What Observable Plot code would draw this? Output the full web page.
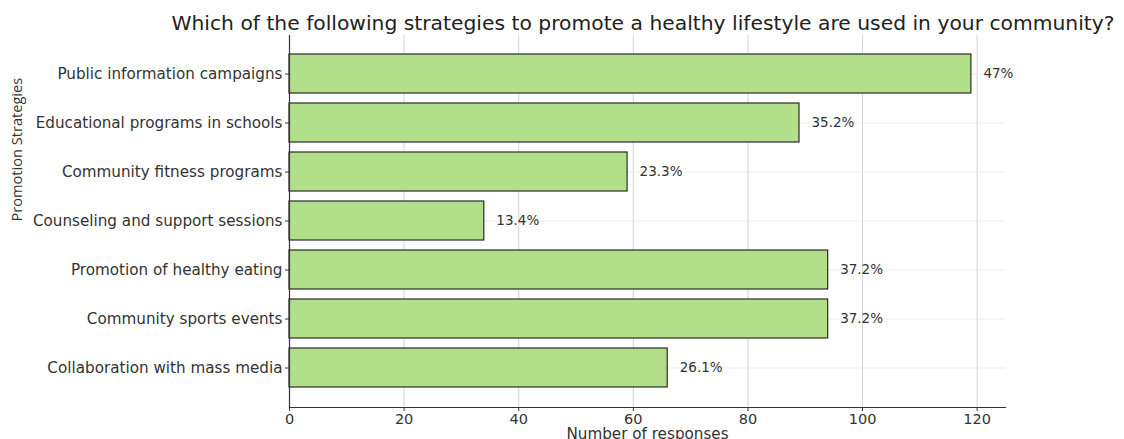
<!DOCTYPE html>
<html>
<head>
<meta charset="utf-8">
<script src="https://cdn.jsdelivr.net/npm/d3@7"></script>
<script src="https://cdn.jsdelivr.net/npm/@observablehq/plot@0.6"></script>
<style>
  html, body { margin: 0; padding: 0; background: #fff; }
  #chart { width: 1124px; height: 439px; overflow: hidden; }
</style>
</head>
<body>
<div id="chart"></div>
<script>
const title = "Which of the following strategies to promote a healthy lifestyle are used in your community?";
const xLabel = "Number of responses";
const yLabel = "Promotion Strategies";
const categories = [
  "Public information campaigns",
  "Educational programs in schools",
  "Community fitness programs",
  "Counseling and support sessions",
  "Promotion of healthy eating",
  "Community sports events",
  "Collaboration with mass media"
];
const responses = [119, 89, 59, 34, 94, 94, 66];
const percentLabels = ["47%", "35.2%", "23.3%", "13.4%", "37.2%", "37.2%", "26.1%"];
const xTicks = [0, 20, 40, 60, 80, 100, 120];

const data = categories.map((c, i) => ({cat: c, value: responses[i], pct: percentLabels[i]}));

const chart = Plot.plot({
  width: 1124,
  height: 439,
  marginLeft: 289,
  marginRight: 119,
  marginTop: 35,
  marginBottom: 32,
  style: {fontFamily: "DejaVu Sans", fontSize: "15px", color: "#333", background: "#fff", overflow: "visible"},
  x: {domain: [0, 124.95]},
  y: {domain: categories, paddingInner: 0.2, paddingOuter: 0.34},
  marks: [
    Plot.gridX(xTicks, {stroke: "#c8c8c8", strokeOpacity: 1, strokeWidth: 0.8}),
    Plot.gridY(categories, {stroke: "#e8e8e8", strokeOpacity: 1, strokeWidth: 0.8}),
    Plot.barX(data, {x: "value", y: "cat", fill: "#b2df8a", stroke: "#2a2a2a", strokeWidth: 1.2}),
    Plot.text(data, {x: "value", y: "cat", text: "pct", dx: 12, textAnchor: "start", fontSize: 13.5, fill: "#333"}),
    Plot.axisX({ticks: xTicks, tickSize: 4, tickPadding: 2, label: null, fontSize: 14.5}),
    Plot.axisY({tickSize: 4, tickPadding: 3, label: null, fontSize: 15.2}),
    Plot.frame({anchor: "bottom", stroke: "#333", strokeWidth: 1.2}),
    Plot.frame({anchor: "left", stroke: "#333", strokeWidth: 1.2}),
    Plot.text([title], {frameAnchor: "top", dy: -13, dx: -4.5, fontSize: 20.3, fill: "#222"}),
    Plot.text([xLabel], {frameAnchor: "bottom", lineAnchor: "top", dy: 21, fontSize: 15.2, fill: "#333"}),
    Plot.text([yLabel], {frameAnchor: "left", dx: -272, rotate: -90, fontSize: 14.6, fill: "#333", fontFamily: "Open Sans"})
  ]
});
// move title up to match the reference (it sits above the frame top)
const texts = chart.querySelectorAll("text");
texts.forEach(t => { if (t.textContent === title) t.setAttribute("transform", (t.getAttribute("transform") || "") + " translate(0,-7)"); });
document.getElementById("chart").appendChild(chart);
</script>
</body>
</html>
